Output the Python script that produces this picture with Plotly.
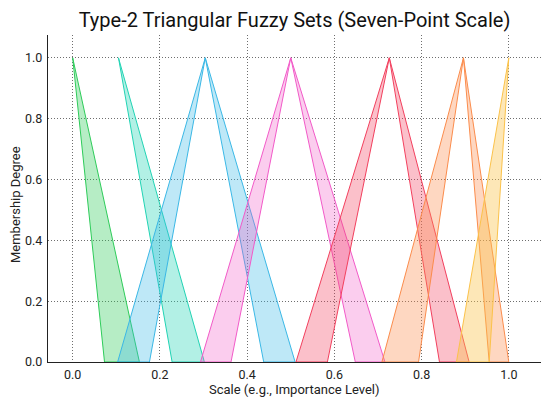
import plotly.graph_objects as go

# seven type-2 triangular fuzzy sets: shared apex, outer (UMF) and inner (LMF) feet
peaks = [0.0, 0.105, 0.304, 0.50, 0.726, 0.896, 1.0]
upper_left = [0.0, 0.105, 0.103, 0.293, 0.512, 0.709, 0.880]
lower_left = [0.0, 0.105, 0.176, 0.363, 0.584, 0.793, 0.955]
lower_right = [0.073, 0.228, 0.438, 0.648, 0.841, 0.955, 1.0]
upper_right = [0.153, 0.302, 0.510, 0.716, 0.909, 1.0, 1.0]

tick_vals = [0.0, 0.2, 0.4, 0.6, 0.8, 1.0]
tick_text = ['0.0', '0.2', '0.4', '0.6', '0.8', '1.0']

colors = ['#2ecc5a', '#22d3b4', '#3bb8e6', '#f25ac8', '#f2405e', '#fb8c4c', '#fbc24a']
fills = ['rgba(46,204,90,0.35)', 'rgba(34,211,180,0.35)', 'rgba(59,184,230,0.33)',
         'rgba(242,90,200,0.3)', 'rgba(242,64,94,0.33)', 'rgba(251,140,76,0.35)',
         'rgba(251,194,74,0.4)']

fig = go.Figure()

for i in range(len(peaks)):
    xs = []
    ys = []
    # left band between outer and inner rising edges
    if upper_left[i] < peaks[i]:
        xs += [upper_left[i], peaks[i], lower_left[i], upper_left[i], None]
        ys += [0, 1, 0, 0, None]
    # right band between inner and outer falling edges
    if upper_right[i] > peaks[i]:
        xs += [lower_right[i], peaks[i], upper_right[i], lower_right[i]]
        ys += [0, 1, 0, 0]
    fig.add_trace(go.Scatter(
        x=xs, y=ys, mode='lines', fill='toself',
        fillcolor=fills[i],
        line=dict(color=colors[i], width=1),
        connectgaps=False,
        hoverinfo='skip',
    ))

# page body has an 8px margin, so the figure is a bit smaller than the window
fig.update_layout(
    width=542,
    height=394,
    margin=dict(l=40, r=9, t=27, b=40, autoexpand=False),
    paper_bgcolor='white',
    plot_bgcolor='white',
    showlegend=False,
    font=dict(family='Roboto, sans-serif', size=12.5, color='#222'),
    title=dict(
        text='Type-2 Triangular Fuzzy Sets (Seven-Point Scale)',
        x=0.5, xref='paper', xanchor='center',
        y=0.97, yref='container', yanchor='middle',
        font=dict(size=20, color='#111'),
    ),
)

fig.update_xaxes(
    range=[-0.0566, 1.0738],
    tickvals=tick_vals, ticktext=tick_text,
    showgrid=True, gridcolor='#6e6e6e', griddash='1px,2px', gridwidth=1,
    showline=True, linecolor='#222', linewidth=1.3,
    ticks='', ticklabelstandoff=1,
    zeroline=False, automargin=False,
)
fig.update_yaxes(
    range=[0, 1.075],
    tickvals=tick_vals, ticktext=tick_text,
    showgrid=True, gridcolor='#6e6e6e', griddash='1px,2px', gridwidth=1,
    showline=True, linecolor='#222', linewidth=1.3,
    ticks='', ticklabelstandoff=2,
    zeroline=False, automargin=False,
)

fig.add_annotation(
    text='Scale (e.g., Importance Level)', showarrow=False,
    x=0.5, xref='paper', y=0, yref='paper', yanchor='middle', yshift=-27,
    font=dict(size=13, color='#222'),
)
fig.add_annotation(
    text='Membership Degree', showarrow=False, textangle=-90,
    x=0, xref='paper', xanchor='center', xshift=-33,
    y=0.48, yref='paper', yanchor='middle',
    font=dict(size=13, color='#222'),
)

fig.write_html("out.html")
